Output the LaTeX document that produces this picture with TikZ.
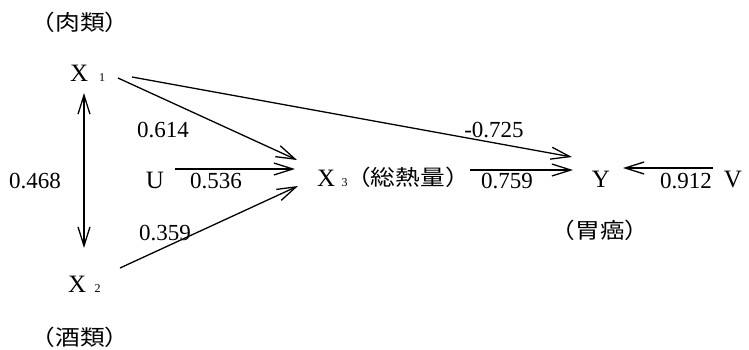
\documentclass[tikz,border=0pt]{standalone}
\usepackage{fontspec}
\usepackage{graphicx}
\setmainfont{Liberation Serif}
\newfontfamily\cjk{Noto Sans CJK JP}
\usetikzlibrary{arrows.meta}
\newcommand{\jpw}[1]{\scalebox{1.15}[1]{#1}}
\newcommand{\subsz}[1]{{\fontsize{12}{12}\selectfont #1}}
\begin{document}
\begin{tikzpicture}[x=1pt,y=-1pt,
  every node/.style={inner sep=0pt,outer sep=0pt},
  lat/.style={font=\fontsize{25}{29}\selectfont, anchor=base},
  xnode/.style={font=\fontsize{25}{29}\selectfont, anchor=base west},
  num/.style={font=\fontsize{23}{27}\selectfont, anchor=base},
  jp/.style={font=\cjk\fontsize{21.5}{25}\selectfont, anchor=center},
  arr/.style={line width=1.3pt, -{Straight Barb[length=19pt,width=12pt]}},
  darr/.style={line width=1.3pt, {Straight Barb[length=19pt,width=12pt]}-{Straight Barb[length=19pt,width=12pt]}}]
\useasboundingbox (0,0) rectangle (749,349);

% nodes
\node[jp] (meat) at (80,22) {\jpw{（肉類）}};
\node[xnode] (X1) at (70,81) {X\kern11pt\subsz{1}};
\node[xnode] (X2) at (68,292) {X\kern8.5pt\subsz{2}};
\node[jp] (sake) at (80,337) {\jpw{（酒類）}};
\node[lat] (U) at (155,188) {U};
\node[xnode] (X3) at (317,186) {X\kern6.5pt\subsz{3}};
\node[jp] (cal) at (408,177) {\jpw{（総熱量）}};
\node[lat] (Y) at (601,187) {Y};
\node[jp] (gan) at (600,230) {\jpw{（胃癌）}};
\node[lat] (V) at (733,187) {V};

% coefficient labels
\node[num] (c468) at (35,188) {0.468};
\node[num] (c614) at (163,137) {0.614};
\node[num] (c725) at (494,137) {-0.725};
\node[num] (c536) at (216,188) {0.536};
\node[num] (c759) at (507,188) {0.759};
\node[num] (c912) at (686,188) {0.912};
\node[num] (c359) at (165,240) {0.359};

% connectors
\draw[darr] ([shift={(14,12)}]X1.base west) -- ([shift={(16,-44)}]X2.base west);
\draw[arr] ([shift={(48,-3)}]X1.base west) -- ([shift={(-20,-26)}]X3.base west);
\draw[arr] ([shift={(62,-4)}]X1.base west) -- ([shift={(-29,-30)}]Y.base);
\draw[arr] ([shift={(20,-19)}]U.base) -- ([shift={(-22,-17)}]X3.base west);
\draw[arr] ([shift={(52,-24)}]X2.base west) -- ([shift={(-19,0)}]X3.base west);
\draw[arr] ([shift={(62,-7)}]cal.center) -- ([shift={(-28,-17)}]Y.base);
\draw[arr] ([shift={(-20,-19)}]V.base) -- ([shift={(22,-19)}]Y.base);
\end{tikzpicture}
\end{document}
